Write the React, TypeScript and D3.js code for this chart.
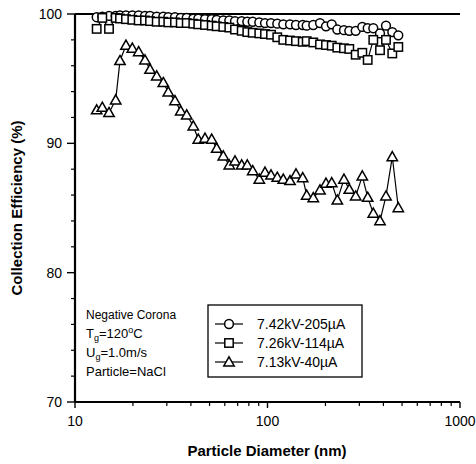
import React from "react";
import * as d3 from "d3";

const diameters = [12.96, 13.86, 15.02, 16.27, 17.13, 18.4, 19.85, 21.42, 23.1, 24.53, 26.58, 28.76, 30.52, 33.07, 35.41, 38.05, 41.17, 43.7, 47.35, 51.3, 54.45, 58.94, 63.33, 67.79, 73.45, 78.54, 83.79, 90.65, 97.05, 104.3, 112.4, 120.8, 130.9, 140.6, 152.4, 159.8, 172.9, 187.4, 201.3, 215.6, 230.5, 249.6, 266.0, 287.2, 310.8, 331.5, 354.5, 384.1, 412.6, 444.9, 478.1];

const circleSeries = [99.75, 99.8, 99.85, 99.85, 99.9, 99.9, 99.9, 99.9, 99.85, 99.85, 99.8, 99.8, 99.75, 99.75, 99.7, 99.7, 99.65, 99.65, 99.6, 99.6, 99.55, 99.5, 99.5, 99.45, 99.45, 99.4, 99.4, 99.35, 99.3, 99.3, 99.25, 99.2, 99.2, 99.15, 99.15, 99.1, 99.15, 99.3, 99.05, 99.2, 98.8, 98.75, 98.7, 98.7, 99.0, 98.9, 98.9, 98.5, 99.1, 98.6, 98.35];

const squareSeries = [98.85, 99.7, 98.85, 99.7, 99.65, 99.6, 99.55, 99.5, 99.5, 99.45, 99.4, 99.4, 99.35, 99.35, 99.3, 99.3, 99.25, 99.2, 99.15, 99.1, 99.05, 99.0, 98.95, 98.8, 98.7, 98.6, 98.55, 98.5, 98.45, 98.4, 98.2, 98.0, 97.95, 97.9, 97.85, 97.9, 97.8, 97.65, 97.6, 97.55, 97.4, 97.35, 97.3, 96.85, 97.0, 96.45, 98.0, 97.2, 98.0, 96.95, 97.45];

const triangleSeries = [92.58, 92.78, 92.37, 93.35, 96.39, 97.58, 97.35, 97.08, 96.44, 95.72, 95.2, 94.69, 93.97, 93.29, 92.5, 92.19, 91.34, 90.31, 90.39, 90.31, 89.61, 89.02, 88.32, 88.63, 88.32, 88.32, 87.88, 87.22, 87.76, 87.55, 87.37, 87.22, 87.11, 87.63, 87.34, 85.98, 85.79, 86.39, 86.91, 86.95, 85.61, 87.22, 86.44, 85.92, 87.47, 85.82, 84.59, 84.01, 85.92, 88.96, 85.02];

const legendLabels = ["7.42kV-205\u00b5A", "7.26kV-114\u00b5A", "7.13kV-40\u00b5A"];
const markerTypes = ["circle", "square", "triangle"];
const yMajorTicks = [70, 80, 90, 100];
const yMinorTicks = d3.range(70, 100, 2);
const xMajorTicks = [10, 100, 1000];
const xMinorTicks = [20, 30, 40, 50, 60, 70, 80, 90, 200, 300, 400, 500, 600, 700, 800, 900];

const FONT = "'Liberation Sans', Arial, Helvetica, sans-serif";

function Marker({ type, x, y }: { type: string; x: number; y: number }) {
  const common = { fill: "#fff", stroke: "#000", strokeWidth: 1.5 };
  if (type === "circle") return <circle cx={x} cy={y} r={4.4} {...common} />;
  if (type === "square") return <rect x={x - 4.2} y={y - 4.2} width={8.4} height={8.4} {...common} />;
  const s = 5.2;
  const path = `M${x},${y - s}L${x + s},${y + s * 0.75}L${x - s},${y + s * 0.75}Z`;
  return <path d={path} {...common} />;
}

export default function App() {
  const W = 476, H = 464;
  const x = d3.scaleLog().domain([10, 1000]).range([75, 460]);
  const y = d3.scaleLinear().domain([70, 100]).range([402, 14]);
  const line = d3.line<[number, number]>().x((d) => x(d[0])).y((d) => y(d[1]));
  const allSeries = [circleSeries, squareSeries, triangleSeries];

  return (
    <svg width={W} height={H} style={{ position: "absolute", left: 0, top: 0, background: "#fff" }} fontFamily={FONT}>
      <rect x={0} y={0} width={W} height={H} fill="#fff" />
      {/* axes */}
      <line x1={x(10)} x2={x(1000)} y1={y(70)} y2={y(70)} stroke="#000" strokeWidth={2} />
      <line x1={x(10)} x2={x(1000)} y1={y(100)} y2={y(100)} stroke="#000" strokeWidth={1.8} />
      <line x1={x(10)} x2={x(10)} y1={y(70)} y2={y(100)} stroke="#000" strokeWidth={2.2} />
      {yMajorTicks.map((t) => (
        <g key={"ym" + t}>
          <line x1={x(10) - 8} x2={x(10)} y1={y(t)} y2={y(t)} stroke="#000" strokeWidth={1.4} />
          <text x={62} y={y(t)} dy="0.35em" textAnchor="end" fontSize={14}>{t}</text>
        </g>
      ))}
      {yMinorTicks.filter((t) => t % 10 !== 0).map((t) => (
        <line key={"yn" + t} x1={x(10) - 4} x2={x(10)} y1={y(t)} y2={y(t)} stroke="#000" strokeWidth={1.2} />
      ))}
      {xMajorTicks.map((t) => (
        <g key={"xm" + t}>
          <line x1={x(t)} x2={x(t)} y1={y(70)} y2={y(70) + 6} stroke="#000" strokeWidth={1.4} />
          <text x={x(t)} y={y(70) + 24} textAnchor="middle" fontSize={14}>{t}</text>
        </g>
      ))}
      {xMinorTicks.map((t) => (
        <line key={"xn" + t} x1={x(t)} x2={x(t)} y1={y(70)} y2={y(70) + 4} stroke="#000" strokeWidth={1.2} />
      ))}
      {/* axis titles */}
      <text x={267} y={456} textAnchor="middle" fontSize={15} fontWeight="bold">Particle Diameter (nm)</text>
      <text transform={`translate(22,${208}) rotate(-90)`} textAnchor="middle" fontSize={15} fontWeight="bold">Collection Efficiency (%)</text>
      {/* series */}
      {allSeries.map((s, i) => {
        const pts: [number, number][] = diameters.map((d, j) => [d, s[j]]);
        return (
          <g key={"s" + i}>
            <path d={line(pts) || ""} fill="none" stroke="#000" strokeWidth={1.2} />
            {pts.map((p, j) => (
              <Marker key={j} type={markerTypes[i]} x={x(p[0])} y={y(p[1])} />
            ))}
          </g>
        );
      })}
      {/* annotation */}
      <g fontSize={13}>
        <text x={86} y={319} fontSize={12}>Negative Corona</text>
        <text x={86} y={338}>T<tspan fontSize={9} dy={3}>g</tspan><tspan dy={-3}>=120</tspan><tspan fontSize={9} dy={-5}>o</tspan><tspan dy={5}>C</tspan></text>
        <text x={86} y={357}>U<tspan fontSize={9} dy={3}>g</tspan><tspan dy={-3}>=1.0m/s</tspan></text>
        <text x={86} y={376}>Particle=NaCl</text>
      </g>
      {/* legend */}
      <rect x={208} y={305} width={154} height={72} fill="#fff" stroke="#000" strokeWidth={1.3} />
      {legendLabels.map((lab, i) => {
        const ly = 324 + i * 19;
        return (
          <g key={"l" + i}>
            <line x1={215} x2={243} y1={ly} y2={ly} stroke="#000" strokeWidth={1.2} />
            <Marker type={markerTypes[i]} x={229} y={ly} />
            <text x={257} y={ly} dy="0.36em" fontSize={14}>{lab}</text>
          </g>
        );
      })}
    </svg>
  );
}
